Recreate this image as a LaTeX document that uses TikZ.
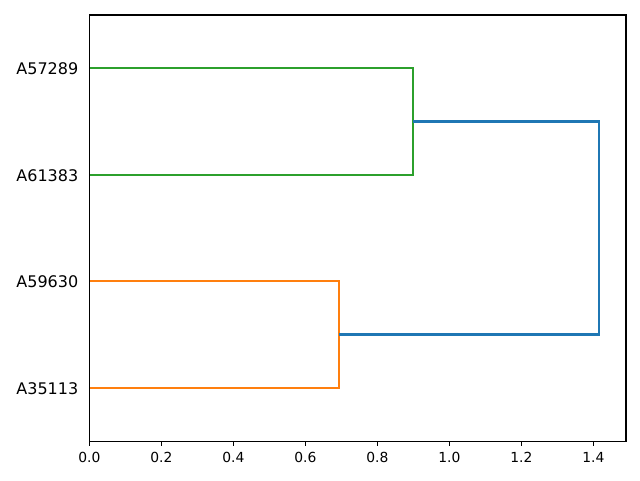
\documentclass[tikz,border=0pt]{standalone}
\usepackage{fontspec}
\setmainfont{DejaVu Sans}
\definecolor{cblue}{HTML}{1F77B4}
\definecolor{corange}{HTML}{FF7F0E}
\definecolor{cgreen}{HTML}{2CA02C}
\begin{document}
\begin{tikzpicture}[x=0.75pt,y=-0.75pt,
  link/.style={line width=1.56pt},
  spine/.style={line width=0.83pt,black},
  leaflab/.style={anchor=base east,font=\fontsize{12pt}{14pt}\selectfont,inner sep=0pt},
  ticklab/.style={anchor=base,font=\fontsize{10.4pt}{12pt}\selectfont,inner sep=0pt},
  xtick/.style={line width=0.83pt}]
\useasboundingbox (0,0) rectangle (640,480);
% leaf positions
\coordinate (l1) at (89.3,68.25);
\coordinate (l2) at (89.3,174.75);
\coordinate (l3) at (89.3,281.25);
\coordinate (l4) at (89.3,387.75);
% merge heights
\coordinate (g1) at (413.3,68.25);
\coordinate (g2) at (413.3,174.75);
\coordinate (o1) at (339,281.25);
\coordinate (o2) at (339,387.75);
\coordinate (gm) at (413.3,121.5);
\coordinate (om) at (339,334.5);
\coordinate (b1) at (599,121.5);
\coordinate (b2) at (599,334.5);
% links
\draw[link,cgreen] (l1) -- (g1) -- (g2) -- (l2);
\draw[link,corange] (l3) -- (o1) -- (o2) -- (l4);
\draw[link,cblue] (gm) -- (b1) -- (b2) -- (om);
% axes frame
\draw[spine] (89.3,15) rectangle (626,441.3);
% leaf labels
\node[leaflab] (t1) at (78.5,74.5) {A57289};
\node[leaflab] (t2) at (78.5,181) {A61383};
\node[leaflab] (t3) at (78.5,287.5) {A59630};
\node[leaflab] (t4) at (78.5,394) {A35113};
% x ticks
\foreach \v/\lab [count=\i] in {0/0.0,0.2/0.2,0.4/0.4,0.6/0.6,0.8/0.8,1.0/1.0,1.2/1.2,1.4/1.4}{
  \draw[xtick] (89.3+360*\v,441.3) -- (89.3+360*\v,446.2);
  \node[ticklab] (x\i) at (89.3+360*\v,462.5) {\lab};
}
\end{tikzpicture}
\end{document}
